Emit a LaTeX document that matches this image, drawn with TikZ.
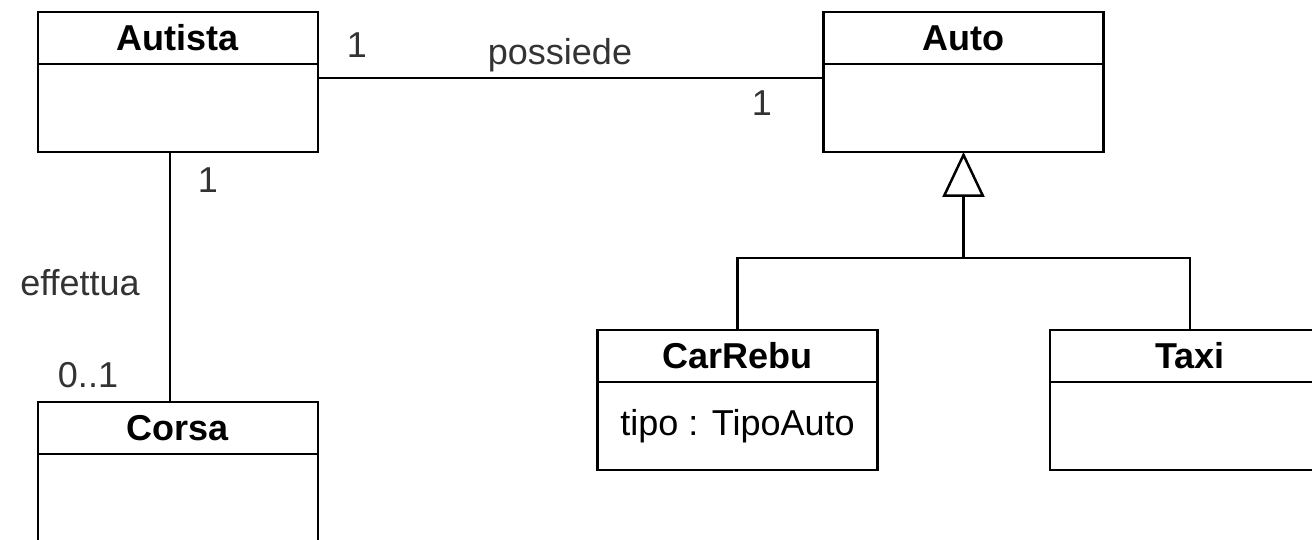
\documentclass[tikz,border=0pt]{standalone}
\usepackage{fontspec}
\setmainfont{Liberation Sans}
\usetikzlibrary{arrows.meta,positioning}

\begin{document}
\begin{tikzpicture}[x=1pt,y=-1pt,font=\fontsize{36}{40}\selectfont,
	line width=2.5pt]

	\tikzstyle{classhead}=[draw,outer sep=0pt,inner sep=0pt,minimum width=280pt,minimum height=52pt,font=\fontsize{36}{40}\selectfont\bfseries]
	\tikzstyle{classbody}=[draw,outer sep=0pt,inner sep=0pt,minimum width=280pt,minimum height=88pt]
	\tikzstyle{mult}=[text=black!80,inner sep=0pt]

	\useasboundingbox (0,0) rectangle (1312,540);
	\clip (0,0) rectangle (1312,540);

	% classes
	\node[classhead] (autista) at (178,38) {Autista};
	\node[classbody,below=0pt of autista] (autistab) {};
	\node[classhead] (auto) at (963.5,38) {Auto};
	\node[classbody,below=0pt of auto] (autob) {};
	\node[classhead] (corsa) at (178,428) {Corsa};
	\node[classbody,below=0pt of corsa] (corsab) {};
	\node[classhead] (carrebu) at (737.5,356) {CarRebu};
	\node[classbody,below=0pt of carrebu] (carrebub) {tipo : TipoAuto};
	\node[classhead] (taxi) at (1190,356) {Taxi};
	\node[classbody,below=0pt of taxi] (taxib) {};

	% associations
	\draw ([yshift=30pt]autistab.east) -- ([yshift=30pt]autob.west);
	\node[mult] (m1) at (357,45) {1};
	\node[mult] (poss) at (560,55) {possiede};
	\node[mult] (m2) at (762,103) {1};

	\draw ([xshift=-8pt]autistab.south) -- ([xshift=-8pt]corsa.north);
	\node[mult] (m3) at (208,180) {1};
	\node[mult] (eff) at (80,283) {effettua};
	\node[mult] (m4) at (88,375) {0..1};

	% generalization
	\coordinate (split) at (963.5,258);
	\draw[-{Triangle[open,length=45pt,width=42pt]}] (split) -- (autob.south);
	\draw (carrebu.north) |- (split) -| (taxi.north);

\end{tikzpicture}
\end{document}
